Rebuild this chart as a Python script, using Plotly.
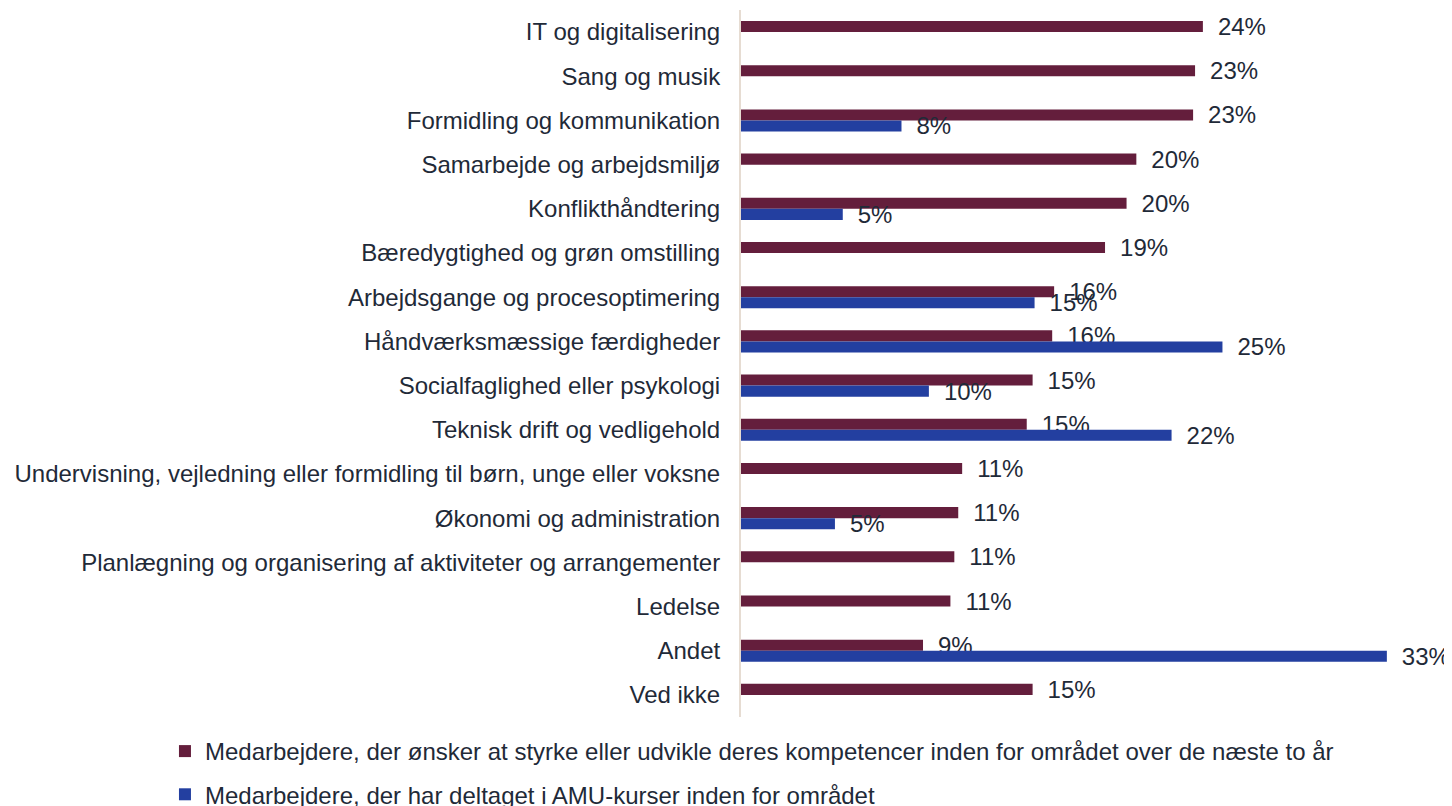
import plotly.graph_objects as go

categories = [
    "IT og digitalisering",
    "Sang og musik",
    "Formidling og kommunikation",
    "Samarbejde og arbejdsmiljø",
    "Konflikthåndtering",
    "Bæredygtighed og grøn omstilling",
    "Arbejdsgange og procesoptimering",
    "Håndværksmæssige færdigheder",
    "Socialfaglighed eller psykologi",
    "Teknisk drift og vedligehold",
    "Undervisning, vejledning eller formidling til børn, unge eller voksne",
    "Økonomi og administration",
    "Planlægning og organisering af aktiviteter og arrangementer",
    "Ledelse",
    "Andet",
    "Ved ikke",
]

wish_values = [23.6, 23.2, 23.1, 20.2, 19.7, 18.6, 16.0, 15.9, 14.9, 14.6,
               11.3, 11.1, 10.9, 10.7, 9.3, 14.9]
amu_values = [None, None, 8.2, None, 5.2, None, 15.0, 24.6, 9.6, 22.0,
              None, 4.8, None, None, 33.0, None]

series_names = [
    "Medarbejdere, der ønsker at styrke eller udvikle deres kompetencer inden for området over de næste to år",
    "Medarbejdere, der har deltaget i AMU-kurser inden for området",
]

MAROON = "#641E3C"
BLUE = "#233FA0"
TEXT = "#1F2A38"
FONT = "Liberation Sans, Arial, sans-serif"
FS = 24

fig = go.Figure()
for name, vals, col, grp in [(series_names[0], wish_values, MAROON, "a"),
                             (series_names[1], amu_values, BLUE, "b")]:
    fig.add_trace(go.Bar(
        name=name,
        y=categories,
        x=vals,
        orientation="h",
        marker=dict(color=col, line=dict(width=0)),
        texttemplate="\u2002%{x:.0f}%",
        textposition="outside",
        textfont=dict(size=FS, color=TEXT, family=FONT),
        constraintext="none",
        cliponaxis=False,
        legendgroup=grp,
        hoverinfo="skip",
    ))

fig.update_layout(
    width=1444,
    height=798,
    margin=dict(l=733, r=26, t=2, b=89, autoexpand=False),
    paper_bgcolor="white",
    plot_bgcolor="white",
    barmode="group",
    bargap=0.5,
    bargroupgap=0,
    font=dict(family=FONT, size=FS, color=TEXT),
    showlegend=True,
    legend=dict(
        orientation="v",
        xref="container",
        yref="container",
        x=0.1087,
        y=0.0965,
        xanchor="left",
        yanchor="top",
        traceorder="grouped",
        tracegroupgap=9,
        font=dict(size=FS, color=TEXT, family=FONT),
        itemwidth=30,
        bgcolor="rgba(0,0,0,0)",
    ),
    xaxis=dict(
        range=[0, 35],
        showgrid=False,
        zeroline=False,
        showticklabels=False,
        showline=False,
        ticks="",
        automargin=False,
    ),
    yaxis=dict(
        autorange="reversed",
        showgrid=False,
        showline=True,
        linecolor="#E6DCD2",
        linewidth=2,
        ticks="",
        ticklabelstandoff=14,
        tickfont=dict(size=FS, color=TEXT, family=FONT),
        automargin=False,
    ),
)

fig.write_html("out.html")
